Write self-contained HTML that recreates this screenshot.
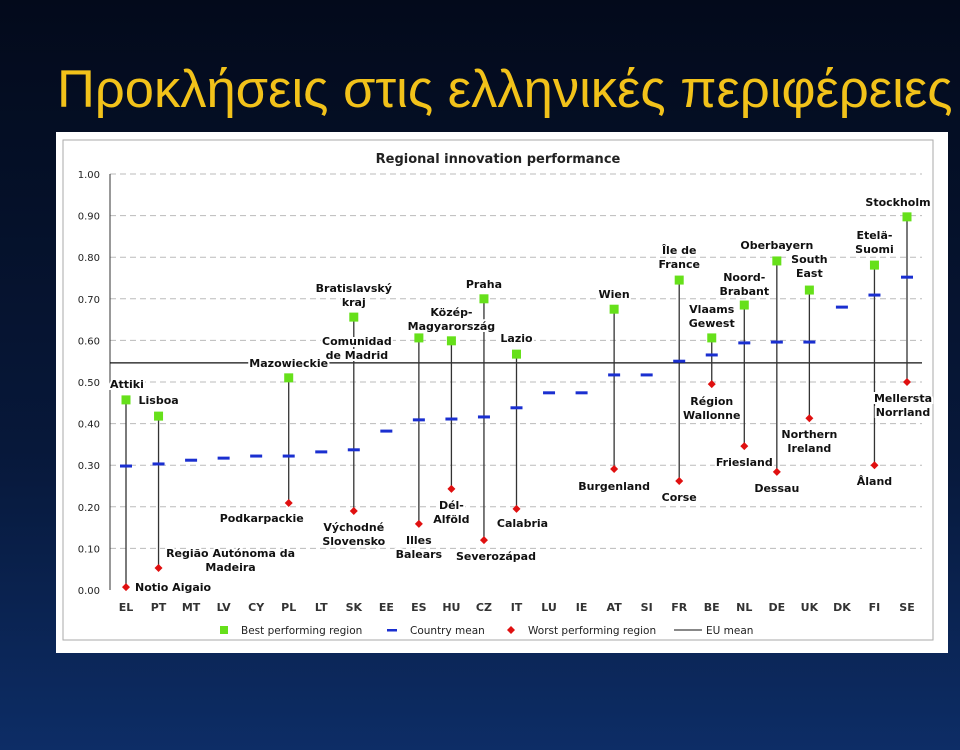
<!DOCTYPE html>
<html><head><meta charset="utf-8"><style>
html,body{margin:0;padding:0;width:960px;height:750px;overflow:hidden;background:#06122a}
</style></head><body>
<svg width="960" height="750" xmlns="http://www.w3.org/2000/svg">
<defs>
<linearGradient id="bg" x1="0" y1="0" x2="0" y2="1">
<stop offset="0" stop-color="#030a1b"/><stop offset="0.6" stop-color="#07183a"/><stop offset="1" stop-color="#0d2d66"/>
</linearGradient>
</defs>
<rect width="960" height="750" fill="url(#bg)"/>
<text x="57" y="107" font-family="Liberation Sans, sans-serif" font-size="52.5" fill="#f2c21a">Προκλήσεις στις ελληνικές περιφέρειες</text>
<rect x="56" y="132" width="892" height="521" fill="#fff"/>
<rect x="63" y="140" width="870" height="500" fill="#fff" stroke="#aaa"/>
<text x="498" y="163" text-anchor="middle" font-family="DejaVu Sans, sans-serif" font-weight="bold" font-size="13" fill="#222">Regional innovation performance</text>
<g id="chart"></g>
</svg>
<script>
const countries=["EL","PT","MT","LV","CY","PL","LT","SK","EE","ES","HU","CZ","IT","LU","IE","AT","SI","FR","BE","NL","DE","UK","DK","FI","SE"];
const best=[0.457,0.418,null,null,null,0.51,null,0.656,null,0.606,0.599,0.70,0.567,null,null,0.675,null,0.745,0.606,0.685,0.791,0.721,null,0.781,0.897];
const mean=[0.298,0.303,0.312,0.317,0.322,0.322,0.332,0.337,0.382,0.409,0.411,0.416,0.438,0.474,0.474,0.517,0.517,0.55,0.565,0.594,0.596,0.596,0.68,0.709,0.752];
const worst=[0.007,0.053,null,null,null,0.209,null,0.19,null,0.159,0.243,0.12,0.195,null,null,0.291,null,0.262,0.495,0.346,0.284,0.413,null,0.30,0.50];
const euMean=[0.546];
const yTicks=[0,0.1,0.2,0.3,0.4,0.5,0.6,0.7,0.8,0.9,1.0];
const bestNames=[["Attiki"],["Lisboa"],null,null,null,["Mazowieckie"],null,["Bratislavský","kraj"],null,["Comunidad","de Madrid"],["Közép-","Magyarország"],["Praha"],["Lazio"],null,null,["Wien"],null,["Île de","France"],["Vlaams","Gewest"],["Noord-","Brabant"],["Oberbayern"],["South","East"],null,["Etelä-","Suomi"],["Stockholm"]];
const worstNames=[["Notio Aigaio"],["Região Autónoma da","Madeira"],null,null,null,["Podkarpackie"],null,["Východné","Slovensko"],null,["Illes","Balears"],["Dél-","Alföld"],["Severozápad"],["Calabria"],null,null,["Burgenland"],null,["Corse"],["Région","Wallonne"],["Friesland"],["Dessau"],["Northern","Ireland"],null,["Åland"],["Mellersta","Norrland"]];
// label offsets (layout only)
const bOff={0:[-16,-12,"start"],1:[-20,-12,"start"],5:[0,-11,"middle"],7:[0,-25,"middle"],9:[-62,7,"middle"],10:[0,-25,"middle"],11:[0,-11,"middle"],12:[0,-12,"middle"],15:[0,-11,"middle"],17:[0,-26,"middle"],18:[0,-25,"middle"],19:[0,-24,"middle"],20:[0,-12,"middle"],21:[0,-27,"middle"],23:[0,-26,"middle"],24:[-9,-11,"middle"]};
const wOff={0:[9,4,"start"],1:[72,-11,"middle"],5:[-27,19,"middle"],7:[0,20,"middle"],9:[0,20,"middle"],10:[0,20,"middle"],11:[12,20,"middle"],12:[6,18,"middle"],15:[0,21,"middle"],17:[0,20,"middle"],18:[0,21,"middle"],19:[0,20,"middle"],20:[0,20,"middle"],21:[0,20,"middle"],23:[0,20,"middle"],24:[-4,20,"middle"]};
const NS="http://www.w3.org/2000/svg";
const g=document.getElementById("chart");
const X=i=>126+i*(907-126)/(countries.length-1);
const Y=v=>590-416*v;
function mk(t,a){const e=document.createElementNS(NS,t);for(const k in a)e.setAttribute(k,a[k]);g.appendChild(e);return e;}
const F="DejaVu Sans, sans-serif";
yTicks.forEach(v=>{
 if(v>0){const l=mk("line",{x1:110,x2:922,y1:Y(v),y2:Y(v),stroke:"#bbb","stroke-dasharray":"6,4"});
 
 }
 const t=mk("text",{x:100,y:Y(v)+4,"text-anchor":"end","font-family":F,"font-size":10,fill:"#222"});t.textContent=v.toFixed(2);
 
 
});
let ax=mk("line",{x1:110,x2:110,y1:Y(1),y2:Y(0),stroke:"#333"});


let eu=mk("line",{x1:110,x2:922,y1:Y(euMean[0]),y2:Y(euMean[0]),stroke:"#111","stroke-width":1.2});


countries.forEach((c,i)=>{
 const x=X(i);
 const t=mk("text",{x:x,y:611,"text-anchor":"middle","font-family":F,"font-size":11,"font-weight":"bold",fill:"#333"});t.textContent=c;
 
 
 if(best[i]!=null&&worst[i]!=null){const r=mk("line",{x1:x,x2:x,y1:Y(best[i]),y2:Y(worst[i]),stroke:"#333","stroke-width":1.3});
 
 }
});
function label(lines,x,y,anchor){
 lines.forEach((s,k)=>{const t=mk("text",{x:x,y:y+k*14,"text-anchor":anchor,"font-family":F,"font-size":11,"font-weight":"bold",fill:"#111",stroke:"#fff","stroke-width":4,"paint-order":"stroke"});t.textContent=s;
 
 });
}
countries.forEach((c,i)=>{
 const x=X(i);
 const m=mk("rect",{x:x-6,y:Y(mean[i])-1.5,width:12,height:3,fill:"#1a2fd0"});
 
 
 if(best[i]!=null){
  const o=bOff[i]||[0,-12,"middle"];
  if(bestNames[i])label(bestNames[i],x+o[0],Y(best[i])+o[1],o[2]);
  const b=mk("rect",{x:x-4.5,y:Y(best[i])-4.5,width:9,height:9,fill:"#66e01a"});
  
  
 }
 if(worst[i]!=null){
  const o=wOff[i]||[0,18,"middle"];
  if(worstNames[i])label(worstNames[i],x+o[0],Y(worst[i])+o[1],o[2]);
  const y=Y(worst[i]);
  const d=mk("polygon",{points:`${x},${y-4} ${x+4},${y} ${x},${y+4} ${x-4},${y}`,fill:"#e01010"});
  
  
 }
});
// legend
function lt(x,s){const t=mk("text",{x:x,y:634,"font-family":F,"font-size":10.5,fill:"#222"});t.textContent=s;
 
 }
let l1=mk("rect",{x:220,y:626,width:8,height:8,fill:"#66e01a"});


lt(241,"Best performing region");
let l2=mk("rect",{x:387,y:629,width:10,height:2.5,fill:"#1a2fd0"});


lt(410,"Country mean");
let l3=mk("polygon",{points:"511,626 515,630 511,634 507,630",fill:"#e01010"});


lt(528,"Worst performing region");
let l4=mk("line",{x1:674,x2:702,y1:630,y2:630,stroke:"#111"});


lt(706,"EU mean");
</script>
</body></html>
